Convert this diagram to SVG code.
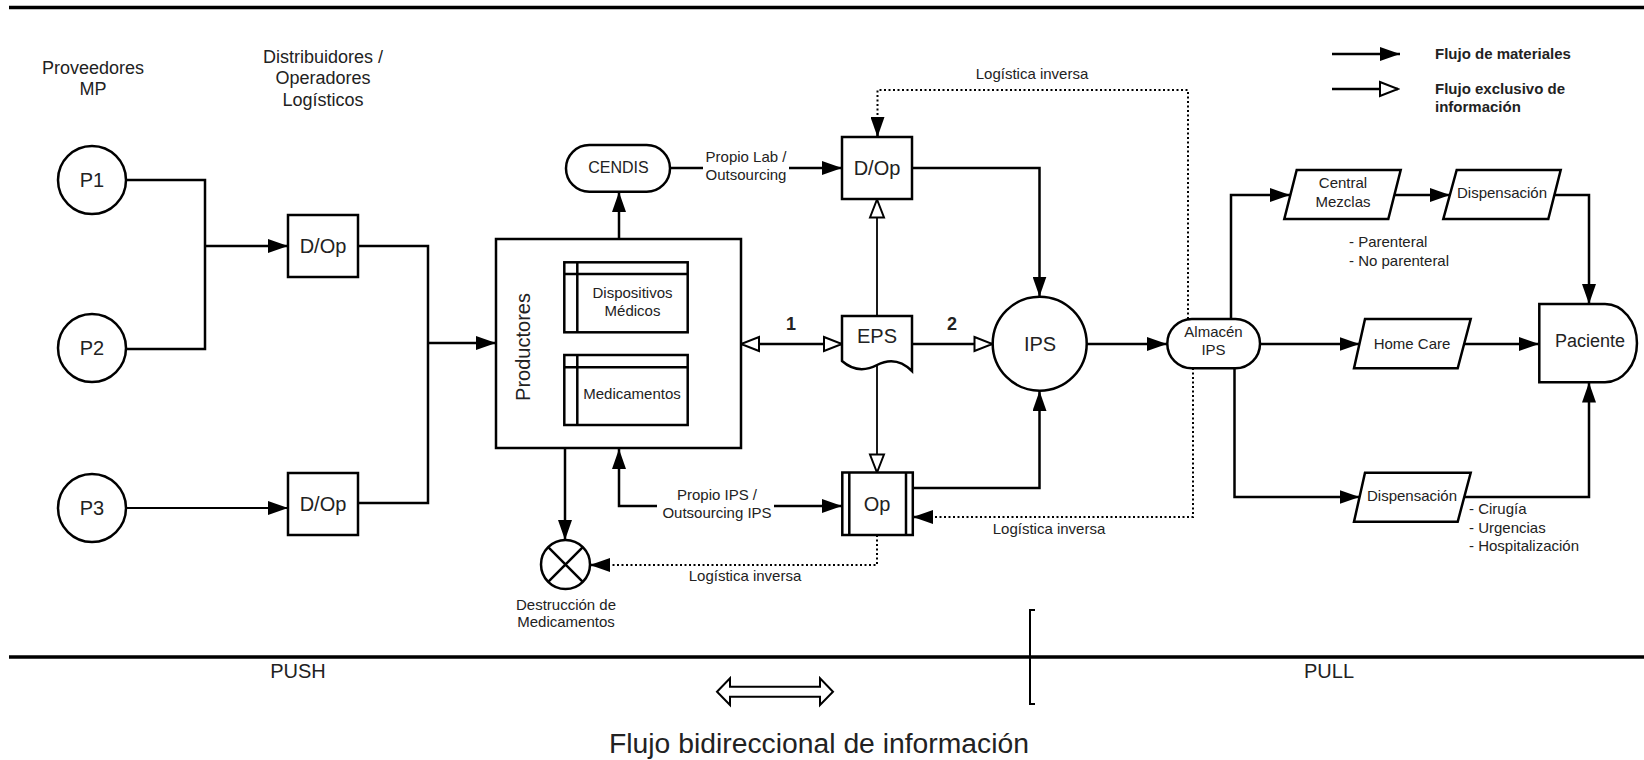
<svg xmlns="http://www.w3.org/2000/svg" width="1644" height="760" viewBox="0 0 1644 760">
<style>
.ln{fill:none;stroke:#000;stroke-width:2.5}
.thin{stroke-width:1.8}
.dot{fill:none;stroke:#000;stroke-width:2;stroke-dasharray:2 2.5}
.nd{fill:#fff;stroke:#000;stroke-width:2.5}
.sep{stroke:#000;stroke-width:3.5}
text{font-family:"Liberation Sans",Arial,sans-serif;fill:#222;text-anchor:middle}
.f15{font-size:15px}
.f18{font-size:18px}
.f20{font-size:20px}
.b{font-weight:bold}
.st{text-anchor:start}
</style>
<defs>
<marker id="af" viewBox="0 0 20 14" markerWidth="20" markerHeight="14" refX="20" refY="7" orient="auto-start-reverse" markerUnits="userSpaceOnUse">
<path d="M0,0 L20,7 L0,14 Z" fill="#000"/>
</marker>
<marker id="ao" viewBox="-2 -2 22 18" markerWidth="22" markerHeight="18" refX="18" refY="7" orient="auto-start-reverse" markerUnits="userSpaceOnUse">
<path d="M0,0 L18,7 L0,14 Z" fill="#fff" stroke="#000" stroke-width="2"/>
</marker>
</defs>
<rect width="1644" height="760" fill="#fff"/>

<g id="frame">
<line class="sep" x1="9" y1="7.5" x2="1644" y2="7.5"/>
<line class="sep" x1="9" y1="657" x2="1644" y2="657"/>
<path d="M1035,610 H1030 V704 H1035" fill="none" stroke="#000" stroke-width="2"/>
<text class="f20" x="298" y="678">PUSH</text>
<text class="f20" x="1329" y="678">PULL</text>
<polygon points="717,691.7 730,678.3 730,686.7 820,686.7 820,678.3 833,691.7 820,705 820,696.7 730,696.7 730,705" fill="#fff" stroke="#000" stroke-width="2"/>
<text x="819" y="753" style="font-size:27px" textLength="420" lengthAdjust="spacingAndGlyphs">Flujo bidireccional de información</text>
</g>

<g id="legend">
<path class="ln" d="M1332,54 H1400" marker-end="url(#af)"/>
<path class="ln" d="M1332,89 H1398" marker-end="url(#ao)"/>
<text class="f15 b st" x="1435" y="59">Flujo de materiales</text>
<text class="f15 b st" x="1435" y="94">Flujo exclusivo de</text>
<text class="f15 b st" x="1435" y="112">información</text>
</g>

<g id="column-labels">
<text class="f18" x="93" y="74">Proveedores</text>
<text class="f18" x="93" y="95">MP</text>
<text class="f18" x="323" y="63">Distribuidores /</text>
<text class="f18" x="323" y="84">Operadores</text>
<text class="f18" x="323" y="106">Logísticos</text>
</g>

<g id="connectors">
<path class="ln" d="M126,180 H205 V349 H126"/>
<path class="ln" d="M205,246 H288" marker-end="url(#af)"/>
<path class="ln thin" d="M126,508 H288" marker-end="url(#af)"/>
<path class="ln" d="M358,246 H428 V503 H358"/>
<path class="ln" d="M428,343 H496" marker-end="url(#af)"/>
<path class="ln" d="M619,239 V192" marker-end="url(#af)"/>
<path class="ln" d="M670,168 H703"/>
<path class="ln" d="M789,168 H842" marker-end="url(#af)"/>
<path class="ln" d="M912,168 H1039.5 V296.5" marker-end="url(#af)"/>
<path class="ln thin" d="M877,316 V199.5" marker-end="url(#ao)"/>
<path class="ln thin" d="M877,366 V472.5" marker-end="url(#ao)"/>
<path class="ln" d="M741,344 H842" marker-start="url(#ao)" marker-end="url(#ao)"/>
<path class="ln" d="M912,344 H992.5" marker-end="url(#ao)"/>
<path class="ln" d="M1087,344 H1167" marker-end="url(#af)"/>
<path class="ln" d="M912,488 H1039.5 V391" marker-end="url(#af)"/>
<path class="ln" d="M565,448 V540" marker-end="url(#af)"/>
<path class="ln" d="M657,506 H619 V449" marker-end="url(#af)"/>
<path class="ln" d="M774,506 H842" marker-end="url(#af)"/>
<path class="dot" d="M1188,319 V90 H877.5 V137"/>
<path class="ln" d="M877.5,130 V137" stroke="none" marker-end="url(#af)"/>
<path class="dot" d="M1193,368 V517 H913"/>
<path class="ln" d="M920,517 H913" stroke="none" marker-end="url(#af)"/>
<path class="dot" d="M877,535 V565 H590"/>
<path class="ln" d="M597,565 H590" stroke="none" marker-end="url(#af)"/>
<path class="ln" d="M1231,319 V195 H1290" marker-end="url(#af)"/>
<path class="ln" d="M1394.5,195 H1450" marker-end="url(#af)"/>
<path class="ln" d="M1554.5,195 H1589 V304" marker-end="url(#af)"/>
<path class="ln" d="M1260,344 H1359.5" marker-end="url(#af)"/>
<path class="ln" d="M1464,344 H1539" marker-end="url(#af)"/>
<path class="ln" d="M1234.5,368 V497 H1359.5" marker-end="url(#af)"/>
<path class="ln" d="M1464,497 H1589 V382.5" marker-end="url(#af)"/>
<text class="f15" x="746" y="162">Propio Lab /</text>
<text class="f15" x="746" y="180">Outsourcing</text>
<text class="f15" x="717" y="500">Propio IPS /</text>
<text class="f15" x="717" y="518">Outsourcing IPS</text>
<text class="f18 b" x="791" y="330">1</text>
<text class="f18 b" x="952" y="330">2</text>
<text class="f15" x="1032" y="79">Logística inversa</text>
<text class="f15" x="1049" y="534">Logística inversa</text>
<text class="f15" x="745" y="581">Logística inversa</text>
</g>

<g id="P1"><circle class="nd" cx="92" cy="180" r="34" stroke-width="2"/><text class="f20" x="92" y="187">P1</text></g>
<g id="P2"><circle class="nd" cx="92" cy="348" r="34" stroke-width="2"/><text class="f20" x="92" y="355">P2</text></g>
<g id="P3"><circle class="nd" cx="92" cy="508" r="34" stroke-width="2"/><text class="f20" x="92" y="515">P3</text></g>

<g id="DOp1"><rect class="nd" x="288" y="215" width="70" height="62"/><text class="f20" x="323" y="253">D/Op</text></g>
<g id="DOp2"><rect class="nd" x="288" y="473" width="70" height="62"/><text class="f20" x="323" y="511">D/Op</text></g>

<g id="Productores">
<rect class="nd" x="496" y="239" width="245" height="209"/>
<text class="f20" x="530" y="347" transform="rotate(-90 530 347)">Productores</text>
</g>
<g id="Dispositivos">
<rect class="nd" x="564.3" y="262.3" width="123.4" height="70"/>
<path class="ln" d="M577.3,262.3 V332.3 M564.3,274 H687.7"/>
<text class="f15" x="632.5" y="297.7">Dispositivos</text>
<text class="f15" x="632.5" y="315.7">Médicos</text>
</g>
<g id="Medicamentos">
<rect class="nd" x="564.3" y="355" width="123.4" height="70"/>
<path class="ln" d="M577.3,355 V425 M564.3,367.3 H687.7"/>
<text class="f15" x="632" y="399">Medicamentos</text>
</g>

<g id="CENDIS"><rect class="nd" x="566" y="145" width="104" height="46.7" rx="23.3"/><text class="f15" x="618.5" y="173" style="font-size:16px">CENDIS</text></g>

<g id="DOp3"><rect class="nd" x="842" y="137" width="70" height="62"/><text class="f20" x="877" y="175">D/Op</text></g>

<g id="EPS"><path class="nd" d="M842,316 H912 V371 Q896,355 877,365 Q858,375 842,361 Z"/><text class="f20" x="877" y="343">EPS</text></g>

<g id="Op">
<rect class="nd" x="842.3" y="472.5" width="70.5" height="62.5"/>
<path class="ln" d="M849.3,472.5 V535 M906,472.5 V535" stroke-width="2"/>
<text class="f20" x="877" y="511">Op</text>
</g>

<g id="Destruccion">
<circle class="nd" cx="565.5" cy="564.5" r="24.5"/>
<path class="ln" d="M548.2,547.2 L582.8,581.8 M582.8,547.2 L548.2,581.8"/>
<text class="f15" x="566" y="610">Destrucción de</text>
<text class="f15" x="566" y="627">Medicamentos</text>
</g>

<g id="IPS"><circle class="nd" cx="1039.7" cy="343.7" r="47"/><text class="f20" x="1040" y="351">IPS</text></g>

<g id="AlmacenIPS"><rect class="nd" x="1167.3" y="319" width="92.7" height="49.3" rx="24.6"/><text class="f15" x="1213.5" y="337">Almacén</text><text class="f15" x="1213.5" y="355">IPS</text></g>

<g id="CentralMezclas"><polygon class="nd" points="1296.7,170 1400.7,170 1388.3,219 1284.3,219"/><text class="f15" x="1343" y="188">Central</text><text class="f15" x="1343" y="207">Mezclas</text></g>
<g id="Dispensacion1"><polygon class="nd" points="1456.7,170 1560.7,170 1548.3,219 1443.3,219"/><text class="f15" x="1502" y="198">Dispensación</text></g>
<g id="HomeCare"><polygon class="nd" points="1365,319 1470.7,319 1457.7,368.3 1354,368.3"/><text class="f15" x="1412" y="349">Home Care</text></g>
<g id="Dispensacion2"><polygon class="nd" points="1365,472.7 1470.7,472.7 1457.7,521.7 1354,521.7"/><text class="f15" x="1412" y="501">Dispensación</text></g>

<g id="Paciente"><path class="nd" d="M1539.3,304 H1605 A32,39.15 0 0 1 1605,382.3 H1539.3 Z"/><text class="f18" x="1590" y="347">Paciente</text></g>

<g id="notes">
<text class="f15 st" x="1349" y="247">- Parenteral</text>
<text class="f15 st" x="1349" y="265.5">- No parenteral</text>
<text class="f15 st" x="1469" y="514">- Cirugía</text>
<text class="f15 st" x="1469" y="532.5">- Urgencias</text>
<text class="f15 st" x="1469" y="551">- Hospitalización</text>
</g>
</svg>
